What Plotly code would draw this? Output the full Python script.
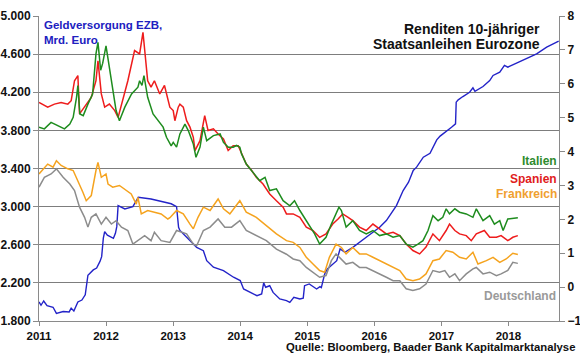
import plotly.graph_objects as go
from datetime import datetime, timedelta

# ---------------- data (time as fractional year, value) ----------------
EZB = [(2011.0, 2000), (2011.03, 1965), (2011.07, 2010), (2011.12, 1960), (2011.21, 1944),
       (2011.26, 1880), (2011.36, 1900), (2011.45, 1895), (2011.48, 1935), (2011.52, 1905),
       (2011.58, 2000), (2011.64, 2020), (2011.69, 2075), (2011.73, 2280), (2011.81, 2336),
       (2011.86, 2355), (2011.91, 2425), (2011.935, 2475), (2011.96, 2670), (2011.98, 2738),
       (2012.02, 2700), (2012.06, 2685), (2012.11, 2668), (2012.14, 2720), (2012.16, 2790),
       (2012.18, 3010), (2012.28, 2976), (2012.40, 3000), (2012.48, 3099), (2012.67, 3080),
       (2012.77, 3065), (2012.97, 3030), (2013.05, 3000), (2013.08, 2784), (2013.10, 2750),
       (2013.25, 2643), (2013.35, 2573), (2013.45, 2538), (2013.50, 2433), (2013.60, 2364),
       (2013.75, 2329), (2013.90, 2259), (2014.00, 2224), (2014.05, 2136), (2014.25, 2066),
       (2014.32, 2084), (2014.35, 2200), (2014.38, 2154), (2014.44, 2170), (2014.49, 2100),
       (2014.59, 2032), (2014.69, 2014), (2014.74, 1996), (2014.80, 2049), (2014.89, 2031),
       (2014.94, 2040), (2014.96, 2171), (2015.03, 2189), (2015.14, 2136), (2015.19, 2160),
       (2015.21, 2150), (2015.26, 2293), (2015.30, 2346), (2015.44, 2433), (2015.49, 2556),
       (2015.56, 2521), (2015.68, 2573), (2015.88, 2679), (2016.08, 2784), (2016.18, 2854),
       (2016.33, 3011), (2016.43, 3169), (2016.51, 3256), (2016.58, 3379), (2016.63, 3414),
       (2016.73, 3519), (2016.83, 3560), (2016.93, 3700), (2016.98, 3740), (2017.15, 3833),
       (2017.21, 3868), (2017.22, 4096), (2017.25, 4120), (2017.32, 4155), (2017.42, 4200),
       (2017.47, 4246), (2017.50, 4210), (2017.62, 4260), (2017.72, 4323), (2017.77, 4376),
       (2017.87, 4411), (2017.94, 4481), (2017.99, 4463), (2018.12, 4506), (2018.27, 4551),
       (2018.42, 4603), (2018.57, 4673), (2018.75, 4736)]

ITALIEN = [(2011.0, 4.72), (2011.08, 4.67), (2011.18, 4.86), (2011.28, 4.76), (2011.38, 4.67),
           (2011.46, 4.81), (2011.51, 5.01), (2011.56, 5.60), (2011.58, 5.95), (2011.61, 5.11),
           (2011.66, 5.06), (2011.73, 5.40), (2011.80, 5.70), (2011.85, 6.88), (2011.88, 7.22),
           (2011.92, 6.40), (2011.95, 6.60), (2012.0, 7.12), (2012.08, 6.09), (2012.15, 5.21),
           (2012.20, 4.91), (2012.28, 5.31), (2012.38, 5.70), (2012.475, 5.90), (2012.50, 6.09),
           (2012.535, 5.95), (2012.565, 6.24), (2012.62, 5.60), (2012.70, 5.11), (2012.77, 4.91),
           (2012.85, 4.72), (2012.90, 4.42), (2012.97, 4.17), (2013.0, 4.27), (2013.05, 4.13),
           (2013.10, 4.52), (2013.175, 4.81), (2013.225, 4.62), (2013.30, 4.22), (2013.34, 3.83),
           (2013.40, 4.13), (2013.45, 4.72), (2013.50, 4.32), (2013.60, 4.47), (2013.70, 4.52),
           (2013.75, 4.27), (2013.82, 4.13), (2013.895, 4.13), (2013.944, 4.18), (2013.994, 4.13),
           (2014.02, 3.93), (2014.09, 3.63), (2014.19, 3.39), (2014.29, 3.14), (2014.37, 3.24),
           (2014.44, 2.85), (2014.54, 2.90), (2014.64, 2.55), (2014.74, 2.40), (2014.81, 2.55),
           (2014.89, 2.26), (2014.986, 1.96), (2015.036, 1.77), (2015.11, 1.57), (2015.185, 1.27),
           (2015.235, 1.37), (2015.28, 1.47), (2015.36, 1.86), (2015.43, 2.16), (2015.473, 2.36),
           (2015.51, 2.26), (2015.58, 1.77), (2015.68, 1.96), (2015.78, 1.67), (2015.88, 1.57),
           (2015.98, 1.67), (2016.08, 1.52), (2016.18, 1.57), (2016.28, 1.47), (2016.38, 1.52),
           (2016.475, 1.27), (2016.575, 1.18), (2016.65, 1.27), (2016.725, 1.37), (2016.80, 1.67),
           (2016.873, 2.11), (2016.95, 1.96), (2017.02, 2.06), (2017.07, 2.31), (2017.12, 2.16),
           (2017.20, 2.31), (2017.27, 2.21), (2017.37, 2.16), (2017.47, 2.06), (2017.52, 2.31),
           (2017.62, 1.96), (2017.72, 2.11), (2017.79, 1.86), (2017.87, 1.96), (2017.92, 1.67),
           (2017.99, 2.01), (2018.065, 2.04), (2018.14, 2.05)]

SPANIEN = [(2011.0, 5.45), (2011.13, 5.31), (2011.23, 5.40), (2011.33, 5.45), (2011.43, 5.40),
           (2011.48, 5.50), (2011.53, 6.09), (2011.58, 6.24), (2011.605, 5.11), (2011.68, 5.31),
           (2011.78, 5.60), (2011.85, 6.09), (2011.88, 6.68), (2011.93, 5.70), (2011.98, 5.31),
           (2012.05, 5.40), (2012.13, 5.21), (2012.18, 5.01), (2012.25, 5.50), (2012.325, 6.09),
           (2012.425, 6.98), (2012.50, 6.88), (2012.55, 7.52), (2012.575, 7.08), (2012.62, 6.09),
           (2012.67, 5.90), (2012.72, 6.09), (2012.80, 5.70), (2012.87, 5.95), (2012.95, 5.31),
           (2013.0, 5.21), (2013.025, 4.91), (2013.075, 5.31), (2013.10, 5.40), (2013.15, 5.31),
           (2013.20, 4.91), (2013.25, 4.72), (2013.30, 4.42), (2013.325, 4.03), (2013.40, 4.32),
           (2013.47, 5.06), (2013.52, 4.62), (2013.60, 4.67), (2013.67, 4.52), (2013.75, 4.37),
           (2013.82, 4.03), (2013.895, 4.17), (2013.97, 4.17), (2014.02, 3.93), (2014.09, 3.63),
           (2014.17, 3.44), (2014.24, 3.24), (2014.34, 3.04), (2014.44, 2.75), (2014.54, 2.55),
           (2014.64, 2.36), (2014.69, 2.16), (2014.79, 2.16), (2014.89, 2.06), (2014.986, 1.77),
           (2015.086, 1.67), (2015.185, 1.47), (2015.28, 1.57), (2015.38, 1.86), (2015.46, 2.01),
           (2015.53, 2.16), (2015.61, 2.06), (2015.68, 1.96), (2015.78, 1.77), (2015.88, 1.67),
           (2015.98, 1.86), (2016.08, 1.72), (2016.18, 1.57), (2016.28, 1.62), (2016.38, 1.52),
           (2016.475, 1.27), (2016.575, 1.08), (2016.675, 0.98), (2016.77, 1.18), (2016.873, 1.57),
           (2016.97, 1.37), (2017.07, 1.67), (2017.12, 1.86), (2017.20, 1.67), (2017.27, 1.57),
           (2017.37, 1.52), (2017.445, 1.37), (2017.52, 1.57), (2017.64, 1.67), (2017.72, 1.47),
           (2017.82, 1.47), (2017.89, 1.52), (2017.99, 1.37), (2018.065, 1.47), (2018.14, 1.52)]

FRANKREICH = [(2011.0, 3.34), (2011.13, 3.63), (2011.21, 3.54), (2011.26, 3.73), (2011.33, 3.59),
              (2011.43, 3.49), (2011.51, 3.44), (2011.58, 3.14), (2011.655, 2.80), (2011.705, 2.55),
              (2011.78, 2.70), (2011.85, 3.44), (2011.88, 3.68), (2011.93, 3.24), (2012.0, 3.34),
              (2012.03, 3.04), (2012.10, 2.95), (2012.20, 3.00), (2012.30, 2.85), (2012.375, 2.75),
              (2012.45, 2.45), (2012.475, 2.65), (2012.525, 2.16), (2012.62, 2.26), (2012.72, 2.21),
              (2012.82, 2.16), (2012.92, 2.01), (2012.951, 2.05), (2013.05, 2.26), (2013.15, 2.16),
              (2013.25, 1.86), (2013.30, 1.72), (2013.37, 2.06), (2013.45, 2.36), (2013.55, 2.26),
              (2013.67, 2.60), (2013.75, 2.31), (2013.845, 2.16), (2013.994, 2.55), (2014.09, 2.21),
              (2014.24, 2.06), (2014.39, 1.81), (2014.54, 1.57), (2014.69, 1.37), (2014.79, 1.32),
              (2014.89, 1.17), (2014.986, 0.88), (2015.086, 0.68), (2015.185, 0.49), (2015.26, 0.44),
              (2015.33, 0.88), (2015.43, 1.27), (2015.51, 1.17), (2015.58, 0.98), (2015.68, 1.17),
              (2015.78, 0.98), (2015.88, 0.98), (2015.98, 0.88), (2016.08, 0.78), (2016.18, 0.68),
              (2016.28, 0.58), (2016.38, 0.49), (2016.475, 0.24), (2016.575, 0.19), (2016.675, 0.24),
              (2016.77, 0.39), (2016.873, 0.78), (2016.97, 0.83), (2017.07, 1.08), (2017.17, 1.03),
              (2017.27, 0.88), (2017.37, 0.83), (2017.47, 1.03), (2017.545, 0.68), (2017.67, 0.78),
              (2017.77, 0.88), (2017.87, 0.73), (2017.965, 0.83), (2018.065, 1.00), (2018.14, 0.96)]

DEUTSCHLAND = [(2011.0, 2.95), (2011.08, 3.24), (2011.18, 3.34), (2011.26, 3.49), (2011.36, 3.24),
               (2011.46, 3.04), (2011.53, 2.85), (2011.605, 2.36), (2011.68, 2.06), (2011.73, 1.77),
               (2011.78, 2.06), (2011.85, 2.16), (2011.93, 1.86), (2012.0, 2.06), (2012.08, 1.86),
               (2012.15, 1.96), (2012.23, 1.77), (2012.325, 1.67), (2012.40, 1.27), (2012.475, 1.37),
               (2012.575, 1.52), (2012.67, 1.37), (2012.72, 1.62), (2012.82, 1.37), (2012.92, 1.32),
               (2012.951, 1.32), (2013.05, 1.67), (2013.20, 1.57), (2013.30, 1.27), (2013.35, 1.22),
               (2013.45, 1.67), (2013.55, 1.77), (2013.67, 2.01), (2013.77, 1.77), (2013.87, 1.77),
               (2013.994, 1.96), (2014.09, 1.67), (2014.24, 1.52), (2014.39, 1.37), (2014.54, 1.12),
               (2014.69, 0.97), (2014.79, 0.83), (2014.89, 0.78), (2014.986, 0.58), (2015.086, 0.44),
               (2015.185, 0.29), (2015.28, 0.34), (2015.36, 0.78), (2015.43, 0.98), (2015.48, 0.88),
               (2015.58, 0.68), (2015.68, 0.73), (2015.78, 0.58), (2015.88, 0.58), (2015.98, 0.49),
               (2016.08, 0.39), (2016.18, 0.29), (2016.28, 0.19), (2016.38, 0.19), (2016.475, -0.05),
               (2016.575, -0.10), (2016.675, -0.05), (2016.77, 0.09), (2016.873, 0.49), (2016.97, 0.44),
               (2017.05, 0.49), (2017.12, 0.29), (2017.20, 0.39), (2017.27, 0.19), (2017.37, 0.39),
               (2017.47, 0.54), (2017.52, 0.58), (2017.62, 0.39), (2017.72, 0.44), (2017.82, 0.34),
               (2017.89, 0.39), (2017.99, 0.49), (2018.065, 0.73), (2018.14, 0.70)]

YEARS = [2011, 2012, 2013, 2014, 2015, 2016, 2017, 2018]
LEFT_TICKS = [1800, 2200, 2600, 3000, 3400, 3800, 4200, 4600, 5000]
LEFT_LABELS = ["1.800", "2.200", "2.600", "3.000", "3.400", "3.800", "4.200", "4.600", "5.000"]
RIGHT_TICKS = [-1, 0, 1, 2, 3, 4, 5, 6, 7, 8]

# ---------------- helpers ----------------
def to_date(t):
    y = int(t)
    start = datetime(y, 1, 1)
    days = (datetime(y + 1, 1, 1) - start).days
    return start + timedelta(days=(t - y) * days)

def unzip(pairs):
    return [to_date(t) for t, _ in pairs], [v for _, v in pairs]

FONT = "Liberation Sans, Arial, sans-serif"

# plot area in pixels (for annotation placement)
L, R, T, B = 39, 559, 16, 321
def px(x):
    return (x - L) / (R - L)
def py(y):
    return (B - y) / (B - T)

fig = go.Figure()

x, y = unzip(EZB)
fig.add_trace(go.Scatter(x=x, y=y, mode="lines", line=dict(color="#2323c8", width=1.4),
                         name="Geldversorgung EZB", yaxis="y"))

series = [("Spanien", SPANIEN, "#ee1c1c"), ("Italien", ITALIEN, "#1e8c1e"),
          ("Frankreich", FRANKREICH, "#f5a31e"), ("Deutschland", DEUTSCHLAND, "#8c8c8c")]
for name, data, col in series:
    x, y = unzip(data)
    fig.add_trace(go.Scatter(x=x, y=y, mode="lines", line=dict(color=col, width=1.5),
                             name=name, yaxis="y2"))

annos = []
def ann(text, x, y, color, size, anchor):
    annos.append(dict(text=text, x=px(x), y=py(y), xref="paper", yref="paper",
                      xanchor=anchor, yanchor="middle", showarrow=False, align=anchor,
                      font=dict(family=FONT, size=size, color=color, weight="bold")))

ann("Geldversorgung EZB,<br>Mrd. Euro", 42, 32, "#2020c0", 11.5, "left")
ann("Renditen 10-jähriger", 542, 29, "#111111", 14, "right")
ann("Staatsanleihen Eurozone", 542, 44, "#111111", 14, "right")
ann("Italien", 559, 161, "#2e8b2e", 12, "right")
ann("Spanien", 559, 178.5, "#e02020", 12, "right")
ann("Frankreich", 559, 193.5, "#f0a030", 12, "right")
ann("Deutschland", 558, 296, "#9a9a9a", 12, "right")
ann("Quelle: Bloomberg, Baader Bank Kapitalmarktanalyse", 577, 347, "#111111", 11.3, "right")

fig.update_layout(
    width=580, height=358,
    margin=dict(l=L, r=580 - R, t=T, b=358 - B, pad=0, autoexpand=False),
    paper_bgcolor="white", plot_bgcolor="white",
    showlegend=False,
    font=dict(family=FONT, color="#111111"),
    annotations=annos,
    xaxis=dict(type="date", range=[to_date(2011.0), to_date(2018.754)], automargin=False,
               tickvals=[datetime(yv, 1, 1) for yv in YEARS], ticktext=[str(yv) for yv in YEARS],
               showgrid=False, showline=True, linecolor="#8a8a8a", linewidth=1,
               ticks="outside", ticklen=4, tickcolor="#8a8a8a",
               tickfont=dict(family=FONT, size=11.5, color="#111111", weight="bold"),
               zeroline=False),
    yaxis=dict(range=[1800, 5000], tickvals=LEFT_TICKS, ticktext=LEFT_LABELS, automargin=False,
               showgrid=True, gridcolor="#7d7d7d", gridwidth=1,
               showline=True, linecolor="#8a8a8a", linewidth=1,
               ticks="outside", ticklen=5, tickcolor="#8a8a8a",
               tickfont=dict(family=FONT, size=12, color="#111111", weight="bold"),
               zeroline=False),
    yaxis2=dict(range=[-1, 8], tickvals=RIGHT_TICKS, overlaying="y", side="right", automargin=False,
                showgrid=False, showline=True, linecolor="#8a8a8a", linewidth=1,
                ticks="outside", ticklen=5, tickcolor="#8a8a8a",
                tickfont=dict(family=FONT, size=12, color="#111111", weight="bold"),
                zeroline=False),
)

fig.write_html("out.html", config={"displayModeBar": False},
               post_script="document.body.style.margin='0';document.body.style.overflow='hidden';")
